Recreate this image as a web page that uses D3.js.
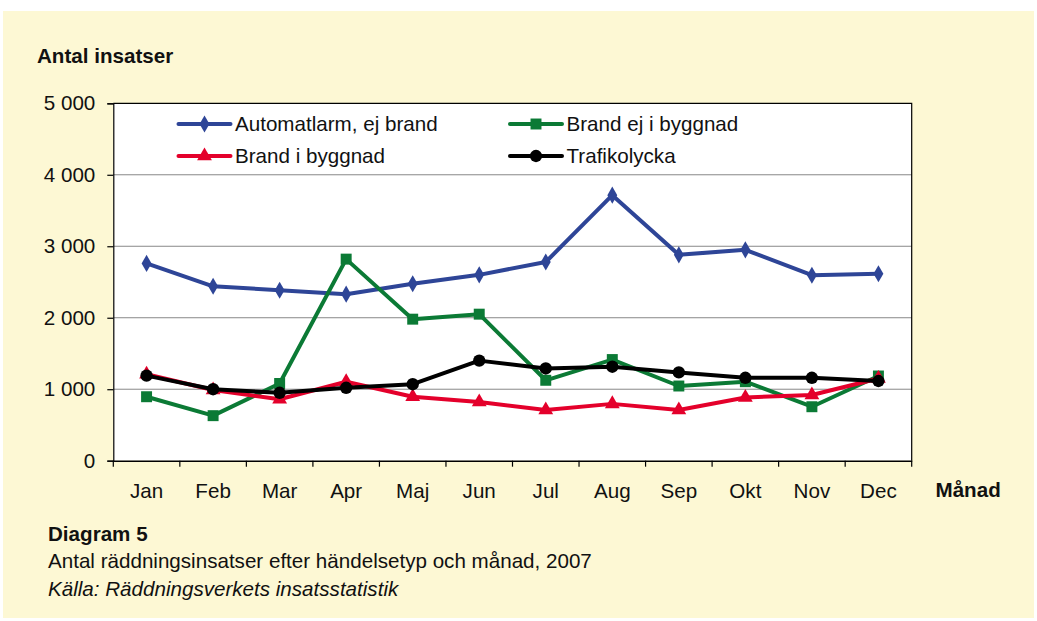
<!DOCTYPE html>
<html><head><meta charset="utf-8">
<script src="https://cdn.jsdelivr.net/npm/d3@7"></script>
<style>body{margin:0;background:#fff;}svg{display:block;font-family:"Liberation Sans",Arial,sans-serif;}</style>
</head><body>
<svg id="c" width="1037" height="621"></svg>
<script>
const months = ["Jan","Feb","Mar","Apr","Maj","Jun","Jul","Aug","Sep","Okt","Nov","Dec"];
const automatlarm = [2760,2440,2385,2330,2475,2600,2780,3715,2880,2950,2595,2615];
const brandEjByggnad = [895,630,1080,2820,1980,2050,1125,1415,1045,1105,755,1185];
const brandByggnad = [1210,990,860,1105,895,820,710,795,710,885,920,1150];
const trafikolycka = [1190,1000,950,1020,1070,1400,1290,1315,1235,1160,1160,1115];
const yTicks = [0,1000,2000,3000,4000,5000];

const series = [
  {name:"Automatlarm, ej brand", values:automatlarm, color:"#2E4597", marker:d3.symbolDiamond, size:85},
  {name:"Brand ej i byggnad", values:brandEjByggnad, color:"#0B7A35", marker:d3.symbolSquare, size:120},
  {name:"Brand i byggnad", values:brandByggnad, color:"#E4002B", marker:d3.symbolTriangle, size:95},
  {name:"Trafikolycka", values:trafikolycka, color:"#000000", marker:d3.symbolCircle, size:120}
];
const FS = 20.6;

const svg = d3.select("#c");
svg.append("rect").attr("x",3).attr("y",11).attr("width",1031).attr("height",607).attr("fill","#FDF8D4");

const L=113.3, R=911.7, T=103.3, B=460.7;
const x = d3.scaleBand().domain(months).range([L,R]);
const y = d3.scaleLinear().domain([0,5000]).range([B,T]);

svg.append("rect").attr("x",L).attr("y",T).attr("width",R-L).attr("height",B-T).attr("fill","#fff");

svg.append("g").selectAll("line").data(yTicks.filter(d=>d>0&&d<5000)).join("line")
  .attr("x1",L).attr("x2",R).attr("y1",d=>y(d)).attr("y2",d=>y(d)).attr("stroke","#888").attr("stroke-width",1);
svg.append("path").attr("d",`M${L},${T}H${R}V${B}`).attr("fill","none").attr("stroke","#000").attr("stroke-width",1.2);

const fmt = d => d===0?"0":d3.format(",")(d).replace(/,/g," ");
const yAxis = d3.axisLeft(y).tickValues(yTicks).tickFormat(fmt).tickSize(6).tickPadding(12);
const gy = svg.append("g").attr("transform",`translate(${L},0)`).call(yAxis);
gy.selectAll("text").attr("font-size",FS).attr("fill","#111").style("font-family","Liberation Sans, Arial");
gy.selectAll("line,path").attr("stroke","#000").attr("stroke-width",1.2);

const xAxis = d3.axisBottom(x).tickSize(0).tickPadding(22.5);
const gx = svg.append("g").attr("transform",`translate(0,${B})`).call(xAxis);
gx.select(".domain").attr("stroke","#000").attr("stroke-width",1.5);
gx.selectAll("text").attr("font-size",FS).attr("fill","#111").style("font-family","Liberation Sans, Arial");
const bounds = months.map(m=>x(m)).concat([R]);
svg.append("g").selectAll("line").data(bounds).join("line")
  .attr("x1",d=>d).attr("x2",d=>d).attr("y1",B).attr("y2",B+6).attr("stroke","#000").attr("stroke-width",1.2);

const cx = m => x(m)+x.bandwidth()/2;
const line = d3.line().x((d,i)=>cx(months[i])).y(d=>y(d));

series.forEach(s=>{
  svg.append("path").datum(s.values).attr("d",line).attr("fill","none").attr("stroke",s.color).attr("stroke-width",4).attr("stroke-linejoin","round");
  svg.append("g").selectAll("path").data(s.values).join("path")
    .attr("d",d3.symbol().type(s.marker).size(s.size))
    .attr("transform",(d,i)=>`translate(${cx(months[i])},${y(d)})`)
    .attr("fill",s.color);
});

const legPos = [[178.5,124],[510,124],[178.5,156],[510,156]];
series.forEach((s,i)=>{
  const [lx,ly]=legPos[i];
  const g = svg.append("g");
  g.append("line").attr("x1",lx).attr("x2",lx+52).attr("y1",ly).attr("y2",ly).attr("stroke",s.color).attr("stroke-width",4).attr("stroke-linecap","round");
  g.append("path").attr("d",d3.symbol().type(s.marker).size(s.size)).attr("transform",`translate(${lx+26},${ly})`).attr("fill",s.color);
  g.append("text").attr("x",lx+56.5).attr("y",ly+7.2).attr("font-size",FS).attr("fill","#111").text(s.name);
});

svg.append("text").attr("x",37).attr("y",62.5).attr("font-size",FS).attr("font-weight","bold").attr("fill","#111").text("Antal insatser");
svg.append("text").attr("x",935.5).attr("y",497).attr("font-size",FS).attr("font-weight","bold").attr("fill","#111").text("Månad");
svg.append("text").attr("x",48).attr("y",541).attr("font-size",FS).attr("font-weight","bold").attr("fill","#111").text("Diagram 5");
svg.append("text").attr("x",48).attr("y",568).attr("font-size",FS).attr("fill","#111").text("Antal räddningsinsatser efter händelsetyp och månad, 2007");
svg.append("text").attr("x",48).attr("y",595.5).attr("font-size",FS).attr("font-style","italic").attr("fill","#111").text("Källa: Räddningsverkets insatsstatistik");
</script>
</body></html>
